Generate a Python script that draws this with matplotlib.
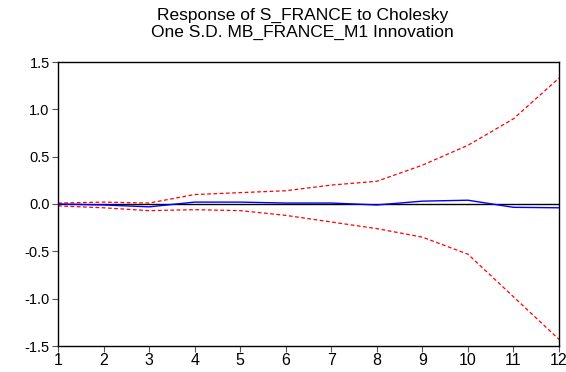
import matplotlib
matplotlib.use("Agg")
import matplotlib.pyplot as plt

periods = [1, 2, 3, 4, 5, 6, 7, 8, 9, 10, 11, 12]
response = [0.00, -0.01, -0.03, 0.02, 0.02, 0.01, 0.01, -0.01, 0.03, 0.04, -0.035, -0.04]
upper = [0.01, 0.02, 0.01, 0.10, 0.12, 0.14, 0.20, 0.24, 0.41, 0.62, 0.90, 1.33]
lower = [-0.02, -0.04, -0.07, -0.06, -0.07, -0.12, -0.19, -0.26, -0.35, -0.53, -0.98, -1.43]
yticks = [-1.5, -1.0, -0.5, 0.0, 0.5, 1.0, 1.5]
title = "Response of S_FRANCE to Cholesky\nOne S.D. MB_FRANCE_M1 Innovation"

plt.rcParams['font.family'] = ['Liberation Sans', 'DejaVu Sans']

fig = plt.figure(figsize=(5.66, 3.72), dpi=100)
ax = fig.add_axes([58/566, 1 - 346/372, (559-58)/566, (346-62)/372])

ax.axhline(0, color='black', lw=1.0, zorder=1)
ax.plot(periods, response, color='#0000ff', lw=1.0, zorder=3)
ax.plot(periods, upper, color='#ff0000', lw=0.9, ls=(0, (3, 2)), zorder=2)
ax.plot(periods, lower, color='#ff0000', lw=0.9, ls=(0, (3, 2)), zorder=2)

ax.set_xlim(1, 12)
ax.set_ylim(-1.5, 1.5)
ax.set_xticks(periods)
ax.set_xticklabels([str(p) for p in periods])
ax.set_yticks(yticks)
ax.set_yticklabels([f"{v:.1f}" for v in yticks])
ax.tick_params(axis='both', direction='out', length=4, width=0.8, pad=2, color='#555555')
ax.tick_params(axis='y', labelsize=10.5)
ax.tick_params(axis='x', labelsize=11.5, pad=1)
for s in ax.spines.values():
    s.set_linewidth(1.0)
    s.set_color('black')

fig.text(0.535, 1 - 24/372, title, ha='center', va='center', fontsize=12.5, linespacing=1.1)

fig.savefig("out.png", dpi=100)
